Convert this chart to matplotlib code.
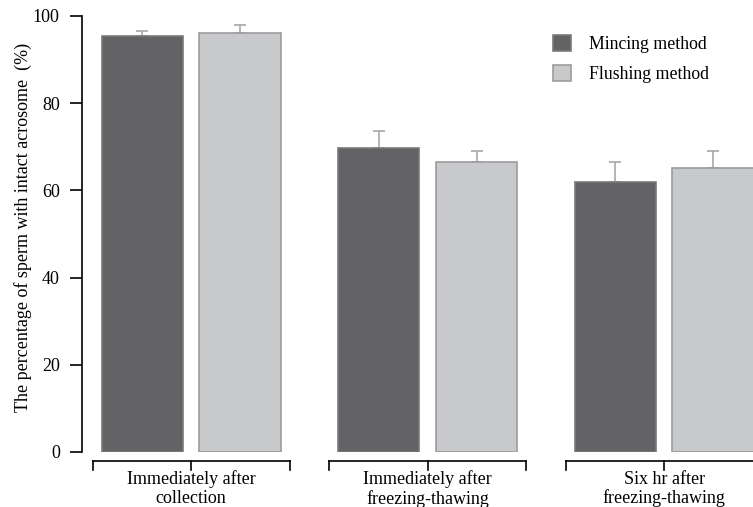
import matplotlib
matplotlib.use("Agg")
import matplotlib.pyplot as plt
import matplotlib.transforms as mtransforms
import numpy as np

categories = ["Immediately after\ncollection", "Immediately after\nfreezing-thawing", "Six hr after\nfreezing-thawing"]
mincing = [95.5, 69.8, 61.9]
mincing_err = [1.1, 3.8, 4.7]
flushing = [96.1, 66.4, 65.2]
flushing_err = [1.8, 2.7, 3.8]
series_names = ["Mincing method", "Flushing method"]
yticks = [0, 20, 40, 60, 80, 100]

plt.rcParams['font.family'] = ['Liberation Serif', 'DejaVu Serif']
plt.rcParams['font.size'] = 13

W, H = 753, 507
fig = plt.figure(figsize=(W/100, H/100), dpi=100)
ax = fig.add_axes([82/W, 1-452/H, (753-82)/W, (452-16)/H])

x = np.arange(len(categories))
off = 0.207
bw = 0.343
dark = "#636365"
light = "#c8c9cb"
errc = "#a8a8a8"
ax.bar(x - off, mincing, bw, color=dark, edgecolor="#7a7a7c", linewidth=1.2,
       label=series_names[0], zorder=2)
ax.bar(x + off, flushing, bw, color=light, edgecolor="#9c9c9e", linewidth=1.2,
       label=series_names[1], zorder=2)
ax.errorbar(x - off, mincing, yerr=[np.zeros(3), mincing_err], fmt='none',
            ecolor=errc, elinewidth=1.2, capsize=4, capthick=1.2, zorder=1)
ax.errorbar(x + off, flushing, yerr=[np.zeros(3), flushing_err], fmt='none',
            ecolor=errc, elinewidth=1.2, capsize=4, capthick=1.2, zorder=1)

ax.set_xlim(-0.461, 2.376)
ax.set_ylim(0, 100)
ax.set_yticks(yticks)
ax.tick_params(axis='y', length=9, width=1.2, pad=7, labelsize=13)
ax.spines['left'].set_linewidth(1.2)
for s in ['top', 'right', 'bottom']:
    ax.spines[s].set_visible(False)
ax.set_xticks([])

# broken x axis segments
trans = mtransforms.blended_transform_factory(ax.transData, ax.transAxes)
yax = -8.6/436
tick = 9/436
half = 98.5/236.5
for i, c in enumerate(x):
    x0, x1 = c - half, c + half
    ax.plot([x0, x1], [yax, yax], color='black', lw=1.2, transform=trans, clip_on=False)
    for xt in (x0, c, x1):
        ax.plot([xt, xt], [yax, yax - tick], color='black', lw=1.2, transform=trans, clip_on=False)
    ax.text(c, yax - 10/436, categories[i], transform=trans, ha='center', va='top',
            fontsize=13, linespacing=1.12)

ax.set_ylabel("The percentage of sperm with intact acrosome  (%)", fontsize=13, labelpad=5)
ax.yaxis.set_label_coords(-0.074, 0.515)

leg = ax.legend(loc='upper left', bbox_to_anchor=(553/W, 1-35/H), bbox_transform=fig.transFigure,
                frameon=False, handlelength=1.0, handleheight=1.0, handletextpad=1.0,
                labelspacing=0.65, borderpad=0, borderaxespad=0, fontsize=12.8)

fig.savefig("out.png", dpi=100)
